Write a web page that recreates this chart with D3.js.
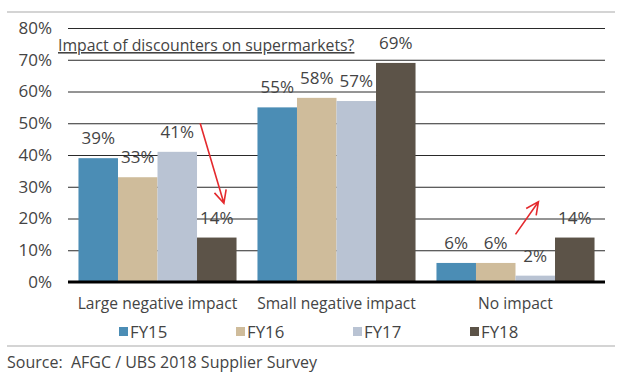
<!DOCTYPE html>
<html>
<head>
<meta charset="utf-8">
<script src="https://cdn.jsdelivr.net/npm/d3@7"></script>
<style>
  body { margin: 0; background: #fff; }
  svg { display: block; font-family: "Open Sans", sans-serif; }
</style>
</head>
<body>
<svg id="chart" width="622" height="392"></svg>
<script>
// data
const categories = ['Large negative impact', 'Small negative impact', 'No impact'];
const seriesNames = ['FY15', 'FY16', 'FY17', 'FY18'];
const fy15 = [39, 55, 6];
const fy16 = [33, 58, 6];
const fy17 = [41, 57, 2];
const fy18 = [14, 69, 14];
const yTicks = [0, 10, 20, 30, 40, 50, 60, 70, 80];
const colors = ['#4b8db5', '#cfbc9b', '#b9c3d3', '#5c5348'];

const values = [fy15, fy16, fy17, fy18];
const svg = d3.select('#chart');
const textCol = '#444';

const plotL = 68, plotR = 605, plotT = 28, plotB = 282;

const x0 = d3.scaleBand().domain(categories).range([plotL, plotR])
  .paddingInner(0.117).paddingOuter(0.0585);
const x1 = d3.scaleBand().domain(seriesNames).range([0, x0.bandwidth()]);
const y = d3.scaleLinear().domain([0, 80]).range([plotB, plotT]);

// frame lines
svg.append('line').attr('x1', 7).attr('x2', 615).attr('y1', 12).attr('y2', 12)
  .attr('stroke', '#d4d4d4').attr('stroke-width', 2);
svg.append('line').attr('x1', 7).attr('x2', 615).attr('y1', 346).attr('y2', 346)
  .attr('stroke', '#d4d4d4').attr('stroke-width', 2);

// gridlines + y labels
const yAxis = d3.axisLeft(y).tickValues(yTicks).tickSize(-(plotR - plotL))
  .tickFormat(d => d + '%').tickPadding(16);
const ga = svg.append('g').attr('transform', `translate(${plotL},0)`).call(yAxis);
ga.select('.domain').remove();
ga.selectAll('.tick line').attr('stroke', '#2a2a2a').attr('stroke-width', 1)
  .attr('opacity', d => d === 0 ? 0 : 1);
ga.selectAll('.tick text').attr('fill', textCol).attr('font-size', 17)
  .attr('font-family', '"Open Sans", sans-serif');

// bars
const groups = svg.append('g').selectAll('g').data(categories).join('g')
  .attr('transform', d => `translate(${x0(d)},0)`);

groups.selectAll('rect')
  .data((c, i) => seriesNames.map((s, j) => ({ s, v: values[j][i], j })))
  .join('rect')
  .attr('x', d => x1(d.s))
  .attr('width', x1.bandwidth())
  .attr('y', d => y(d.v))
  .attr('height', d => y(0) - y(d.v))
  .attr('fill', d => colors[d.j]);

groups.selectAll('text.val')
  .data((c, i) => seriesNames.map((s, j) => ({ s, v: values[j][i], j })))
  .join('text')
  .attr('class', 'val')
  .attr('x', d => x1(d.s) + x1.bandwidth() / 2)
  .attr('y', d => y(d.v) - 14)
  .attr('text-anchor', 'middle')
  .attr('font-size', 17)
  .attr('fill', textCol)
  .text(d => d.v + '%');

// zero axis
svg.append('line').attr('x1', plotL).attr('x2', plotR).attr('y1', y(0)).attr('y2', y(0))
  .attr('stroke', '#000').attr('stroke-width', 3);

// category labels
svg.append('g').selectAll('text').data(categories).join('text')
  .attr('x', d => x0(d) + x0.bandwidth() / 2)
  .attr('y', 309)
  .attr('text-anchor', 'middle')
  .attr('font-size', 15.6)
  .attr('fill', textCol)
  .text(d => d);

// title
svg.append('text').attr('x', 58).attr('y', 51)
  .attr('font-size', 15.8).attr('fill', textCol)
  .attr('text-decoration', 'underline')
  .text('Impact of discounters on supermarkets?');

// legend
const lg = svg.append('g').selectAll('g').data(seriesNames).join('g')
  .attr('transform', (d, i) => `translate(${119 + i * 117},327)`);
lg.append('rect').attr('width', 9).attr('height', 9).attr('fill', (d, i) => colors[i]);
lg.append('text').attr('x', 11).attr('y', 10.5).attr('font-size', 16.8)
  .attr('fill', textCol).text(d => d);

// source
svg.append('text').attr('x', 7).attr('y', 368).attr('font-size', 16)
  .attr('fill', textCol).style('white-space', 'pre')
  .text('Source:  AFGC / UBS 2018 Supplier Survey');

// red arrows
const red = '#e42a2e';
const arrows = [
  { cat: categories[0], fx: [0.77, 0.92], fy: [50, 24.8] },
  { cat: categories[2], fx: [0.5, 0.645], fy: [15, 25.3] }
];
arrows.forEach(a => {
  const xa = x0(a.cat) + a.fx[0] * x0.bandwidth(), ya = y(a.fy[0]);
  const xb = x0(a.cat) + a.fx[1] * x0.bandwidth(), yb = y(a.fy[1]);
  const ang = Math.atan2(yb - ya, xb - xa);
  const L = 14, w = 0.45;
  const p1 = [xb - L * Math.cos(ang - w), yb - L * Math.sin(ang - w)];
  const p2 = [xb - L * Math.cos(ang + w), yb - L * Math.sin(ang + w)];
  svg.append('path')
    .attr('d', `M${xa},${ya}L${xb},${yb}M${p1}L${xb},${yb}L${p2}`)
    .attr('fill', 'none').attr('stroke', red).attr('stroke-width', 1.6);
});
</script>
</body>
</html>
